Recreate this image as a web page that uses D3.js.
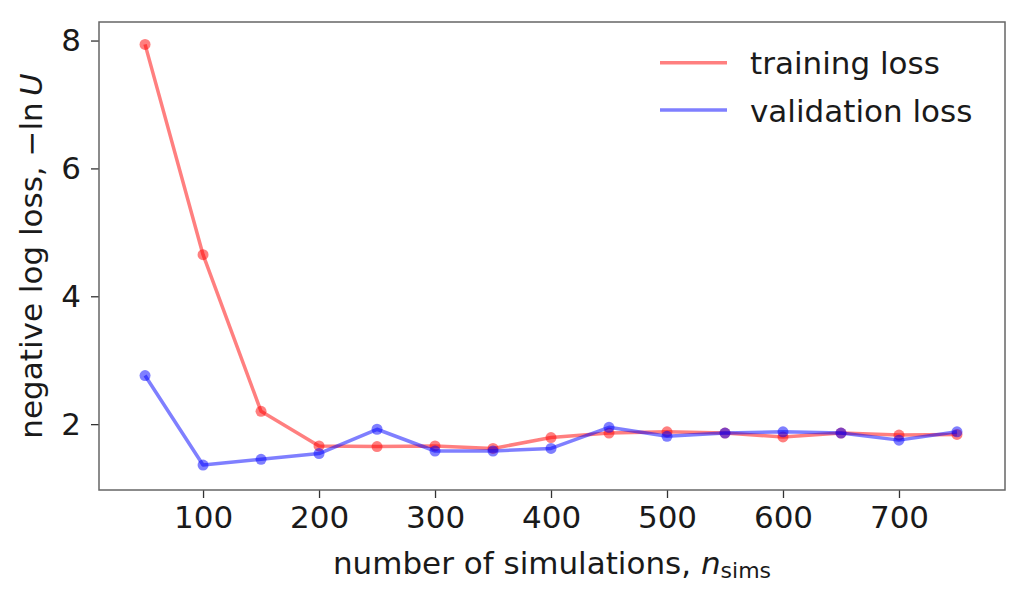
<!DOCTYPE html>
<html>
<head>
<meta charset="utf-8">
<script src="https://cdn.jsdelivr.net/npm/d3@7"></script>
<style>
  body { margin: 0; background: #fff; }
  text { font-family: "DejaVu Sans", sans-serif; fill: #1a1a1a; }
</style>
</head>
<body>
<div id="chart"></div>
<script>
// data
const nSims = [50, 100, 150, 200, 250, 300, 350, 400, 450, 500, 550, 600, 650, 700, 750];
const trainLoss = [7.94, 4.65, 2.20, 1.66, 1.65, 1.66, 1.62, 1.79, 1.86, 1.88, 1.86, 1.80, 1.86, 1.83, 1.84];
const valLoss = [2.76, 1.36, 1.45, 1.54, 1.92, 1.58, 1.58, 1.62, 1.95, 1.81, 1.86, 1.88, 1.86, 1.75, 1.88];
const xTicks = [100, 200, 300, 400, 500, 600, 700];
const yTicks = [2, 4, 6, 8];
const seriesNames = ["training loss", "validation loss"];

const W = 1025, H = 598;
const margin = { top: 22, right: 20, bottom: 108, left: 99 };
const width = W - margin.left - margin.right;
const height = H - margin.top - margin.bottom;

const svg = d3.select("#chart")
    .append("svg")
        .attr("width", W)
        .attr("height", H);

const g = svg.append("g")
    .attr("transform", `translate(${margin.left},${margin.top})`);

const x = d3.scaleLinear()
    .domain([10.3, 791.4])
    .range([0, width]);

const y = d3.scaleLinear()
    .domain([0.97, 8.29])
    .range([height, 0]);

// axes
const xAxis = g.append("g")
    .attr("transform", `translate(0,${height})`)
    .call(d3.axisBottom(x).tickValues(xTicks).tickSize(8).tickPadding(8).tickFormat(d3.format("d")));

const yAxis = g.append("g")
    .call(d3.axisLeft(y).tickValues(yTicks).tickSize(8).tickPadding(10).tickFormat(d3.format("d")));

[xAxis, yAxis].forEach(a => {
    a.select(".domain").remove();
    a.selectAll(".tick line").attr("stroke", "#333").attr("stroke-width", 1.3);
    a.selectAll(".tick text")
        .style("font-family", "'DejaVu Sans', sans-serif")
        .style("font-size", "31px")
        .attr("fill", "#1a1a1a");
});

// frame
g.append("rect")
    .attr("width", width)
    .attr("height", height)
    .attr("fill", "none")
    .attr("stroke", "#666")
    .attr("stroke-width", 1.5);

const series = [
    { name: seriesNames[0], values: trainLoss, color: "red" },
    { name: seriesNames[1], values: valLoss, color: "blue" }
];

const line = d3.line()
    .x((d, i) => x(nSims[i]))
    .y(d => y(d));

series.forEach(s => {
    g.append("path")
        .datum(s.values)
        .attr("d", line)
        .attr("fill", "none")
        .attr("stroke", s.color)
        .attr("stroke-opacity", 0.5)
        .attr("stroke-width", 3.5)
        .attr("stroke-linejoin", "round");

    g.selectAll(null)
        .data(s.values)
        .enter()
        .append("circle")
        .attr("cx", (d, i) => x(nSims[i]))
        .attr("cy", d => y(d))
        .attr("r", 5.5)
        .attr("fill", s.color)
        .attr("fill-opacity", 0.5);
});

// axis labels
const xl = svg.append("text")
    .attr("x", margin.left + width / 2)
    .attr("y", 574)
    .attr("text-anchor", "middle")
    .style("font-size", "31px");
xl.append("tspan").text("number of simulations, ");
xl.append("tspan").attr("font-style", "italic").text("n");
xl.append("tspan").attr("font-size", "22px").attr("dy", 4).text("sims");

const yl = svg.append("text")
    .attr("transform", `translate(42,${margin.top + height / 2}) rotate(-90)`)
    .attr("text-anchor", "middle")
    .style("font-size", "31px");
yl.append("tspan").text("negative log loss, \u2212ln\u2009");
yl.append("tspan").attr("font-style", "italic").text("U");

// legend
const legend = svg.append("g");
series.forEach((s, i) => {
    const ly = 62.7 + i * 47.3;
    legend.append("line")
        .attr("x1", 660).attr("x2", 727)
        .attr("y1", ly).attr("y2", ly)
        .attr("stroke", s.color)
        .attr("stroke-opacity", 0.5)
        .attr("stroke-width", 3.5);
    legend.append("text")
        .attr("x", 750)
        .attr("y", ly + 11.5)
        .style("font-size", "31px")
        .text(s.name);
});
</script>
</body>
</html>
